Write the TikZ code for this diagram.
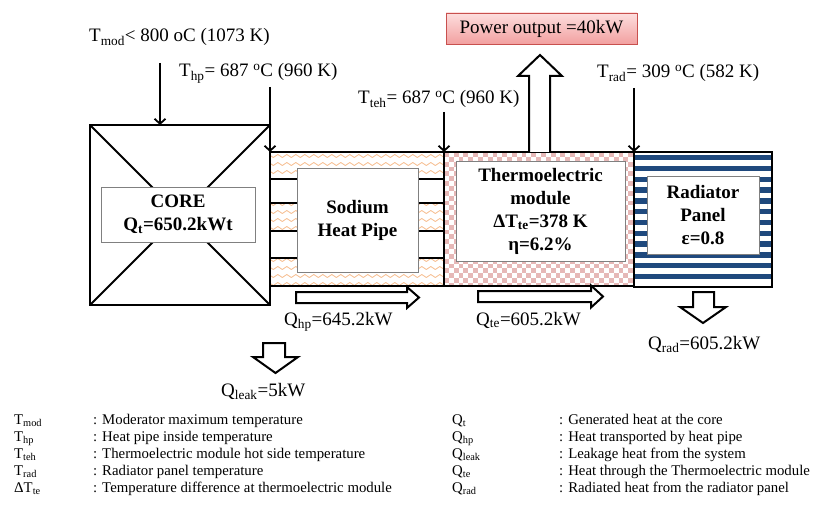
\documentclass[tikz,border=0pt]{standalone}
\usepackage{fontspec}
\setmainfont{Liberation Serif}
\usetikzlibrary{arrows.meta,decorations.pathmorphing}
\definecolor{wavecol}{RGB}{246,190,145}
\definecolor{checkcol}{RGB}{230,184,183}
\definecolor{navy}{RGB}{31,73,125}
\definecolor{pwrtop}{RGB}{253,222,222}
\definecolor{pwrbot}{RGB}{242,160,160}
\definecolor{pwrline}{RGB}{200,80,78}
\newcommand{\tsub}[1]{\textsubscript{#1}}
\newcommand{\degc}{\textsuperscript{o}C}
\begin{document}
\begin{tikzpicture}[x=1pt, y=-1pt,
    frame/.style={draw, line width=2pt, inner sep=0pt, outer sep=0pt},
    lbox/.style={draw=gray, line width=0.8pt, fill=white, inner sep=0pt, align=center,
      font=\fontsize{19}{23}\selectfont\bfseries},
    tarrow/.style={line width=1.8pt, -{Straight Barb[length=5pt,width=11pt]}},
    blockarr/.style={draw, line width=2pt, fill=white, line join=miter},
    txt/.style={font=\fontsize{19}{22}\selectfont, inner sep=0pt, anchor=base west},
    legend/.style={font=\fontsize{14.8}{17}\selectfont, inner sep=0pt, anchor=base west}]
\useasboundingbox (0,0) rectangle (821,505);
% patterned fills
\begin{scope}
  \clip (270,152) rectangle (444,286);
  \foreach \y in {156,164,...,284}
    \draw[wavecol, line width=0.8pt, decorate, decoration={snake, amplitude=1.5pt, segment length=9pt}] (266,\y) -- (448,\y);
  \fill[white] (270,179) rectangle (444,203) (270,231) rectangle (444,258);
\end{scope}
\begin{scope}
  \clip (444,152) rectangle (634,286);
  \foreach \i in {0,...,39}
    \foreach \j in {0,...,27}
      {\ifodd\numexpr\i+\j\relax\else \fill[checkcol] (444+4.85*\i,152+4.85*\j) rectangle ++(4.85,4.85);\fi}
\end{scope}
\begin{scope}
  \clip (634,152) rectangle (772,287);
  \foreach \k in {0,...,11}
    \fill[navy] (634,155+10.8*\k) rectangle (772,160.4+10.8*\k);
\end{scope}
% heat pipe tubes
\foreach \y in {179,203,231,258}
  \draw[line width=1.8pt] (270,\y) -- (444,\y);
% blocks
\node[frame, minimum width=180, minimum height=180] (core) at (180,215) {};
\draw[line width=1.8pt] (core.north west) -- (core.south east) (core.north east) -- (core.south west);
\node[frame, minimum width=174, minimum height=134] (hp) at (357,219) {};
\node[frame, minimum width=190, minimum height=134] (te) at (539,219) {};
\node[frame, minimum width=138, minimum height=135] (rad) at (703,219.5) {};
% labels inside
\node[lbox, minimum width=154, minimum height=55] (corelbl) at (178,214.5) {CORE\\Q\tsub{t}=650.2kWt};
\node[lbox, minimum width=121, minimum height=104] (hplbl) at (357.5,220) {Sodium\\Heat Pipe};
\node[lbox, minimum width=169, minimum height=100] (telbl) at (540.5,211) {Thermoelectric\\module\\ΔT\tsub{te}=378 K\\η=6.2\%};
\node[lbox, minimum width=112, minimum height=78] (radlbl) at (703,215) {Radiator\\Panel\\ε=0.8};
% power output
\node[draw=pwrline, line width=0.8pt, top color=pwrtop, bottom color=pwrbot, minimum width=191, minimum height=31,
  inner sep=0pt, font=\fontsize{19}{22}\selectfont] (pwr) at (541.5,28.5) {Power output =40kW};
\draw[blockarr] (529,152) -- (529,76) -- (518,76) -- (540,55) -- (562,76) -- (550,76) -- (550,152);
% temperatures
\draw[tarrow] ([xshift=-20pt,yshift=62pt]core.north) -- ([xshift=-20pt]core.north);
\draw[tarrow] ([yshift=65pt]hp.north west) -- (hp.north west);
\draw[tarrow] ([yshift=40pt]te.north west) -- (te.north west);
\draw[tarrow] ([yshift=64pt]rad.north west) -- (rad.north west);
\node[txt] (tmod) at (89,42) {T\tsub{mod}< 800 oC (1073 K)};
\node[txt] (thp) at (179,77) {T\tsub{hp}= 687 \degc{} (960 K)};
\node[txt] (tteh) at (358,104) {T\tsub{teh}= 687 \degc{} (960 K)};
\node[txt] (trad) at (597,78) {T\tsub{rad}= 309 \degc{} (582 K)};
% heat flows
\draw[blockarr] (296,292) -- (407,292) -- (407,287) -- (419,297.5) -- (407,308) -- (407,303) -- (296,303) -- cycle;
\draw[blockarr] (478,291) -- (591,291) -- (591,285.5) -- (603,296.5) -- (591,307.5) -- (591,302) -- (478,302) -- cycle;
\draw[blockarr] (693,292) -- (693,307) -- (680,307) -- (703,323) -- (726,307) -- (714,307) -- (714,292) -- cycle;
\draw[blockarr] (263,343) -- (263,357) -- (253,357) -- (275.5,373) -- (298,357) -- (285,357) -- (285,343) -- cycle;
\node[txt] (qhp) at (284,325) {Q\tsub{hp}=645.2kW};
\node[txt] (qte) at (476,325) {Q\tsub{te}=605.2kW};
\node[txt] (qrad) at (648,349) {Q\tsub{rad}=605.2kW};
\node[txt] (qleak) at (221,396) {Q\tsub{leak}=5kW};
% legend
\node[legend] (l1) at (14,424) {T\tsub{mod}};
\node[legend] (l2) at (14,441) {T\tsub{hp}};
\node[legend] (l3) at (14,458) {T\tsub{teh}};
\node[legend] (l4) at (14,475) {T\tsub{rad}};
\node[legend] (l5) at (14,492) {ΔT\tsub{te}};
\node[legend] (d1) at (93,424) {: Moderator maximum  temperature};
\node[legend] (d2) at (93,441) {: Heat pipe inside temperature};
\node[legend] (d3) at (93,458) {: Thermoelectric module hot side temperature};
\node[legend] (d4) at (93,475) {: Radiator panel temperature};
\node[legend] (d5) at (93,492) {: Temperature difference at thermoelectric module};
\node[legend] (r1) at (452,424) {Q\tsub{t}};
\node[legend] (r2) at (452,441) {Q\tsub{hp}};
\node[legend] (r3) at (452,458) {Q\tsub{leak}};
\node[legend] (r4) at (452,475) {Q\tsub{te}};
\node[legend] (r5) at (452,492) {Q\tsub{rad}};
\node[legend] (e1) at (559,424) {: Generated heat at the core};
\node[legend] (e2) at (559,441) {: Heat transported by heat pipe};
\node[legend] (e3) at (559,458) {: Leakage heat from the system};
\node[legend] (e4) at (559,475) {: Heat through the Thermoelectric module};
\node[legend] (e5) at (559,492) {: Radiated heat from the radiator panel};
\end{tikzpicture}
\end{document}
